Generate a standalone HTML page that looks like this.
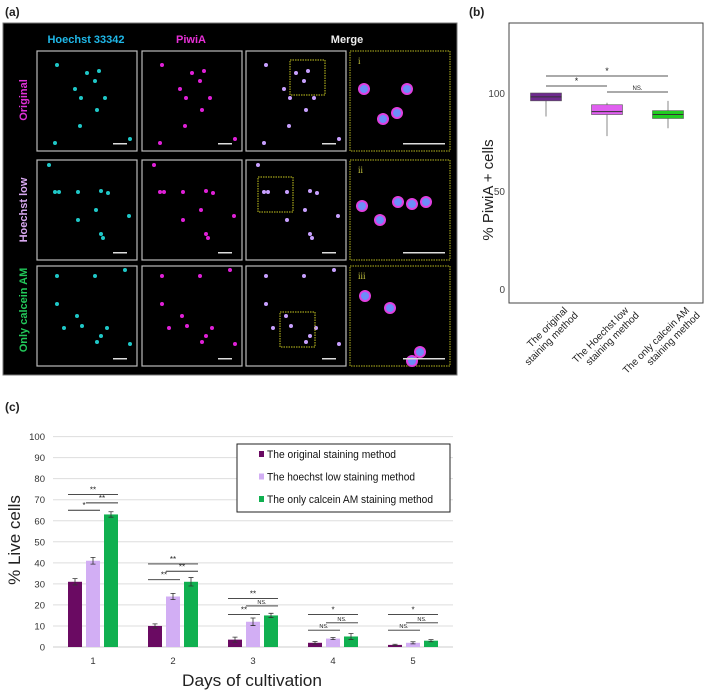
<!DOCTYPE html>
<html><head><meta charset="utf-8"><style>
body{margin:0;background:#fff;width:709px;height:693px;overflow:hidden;font-family:"Liberation Sans",sans-serif}
svg{display:block}
</style></head><body>
<svg width="709" height="693" viewBox="0 0 709 693" xmlns="http://www.w3.org/2000/svg">
<text x="5" y="16" font-size="12" font-weight="bold" fill="#222">(a)</text>
<text x="469" y="16" font-size="12" font-weight="bold" fill="#222">(b)</text>
<text x="5" y="411" font-size="12" font-weight="bold" fill="#222">(c)</text>

<g id="pa">
<rect x="3" y="23" width="454" height="352" fill="#000" stroke="#777" stroke-width="1"/>
<text x="86" y="43" font-size="11" font-weight="bold" fill="#1fb8e8" text-anchor="middle">Hoechst 33342</text>
<text x="191" y="43" font-size="11" font-weight="bold" fill="#e830d8" text-anchor="middle">PiwiA</text>
<text x="347" y="43" font-size="11" font-weight="bold" fill="#eee" text-anchor="middle">Merge</text>
<text transform="translate(27,100) rotate(-90)" font-size="11" font-weight="bold" fill="#e030d8" text-anchor="middle">Original</text>
<text transform="translate(27,210) rotate(-90)" font-size="11" font-weight="bold" fill="#d8a8f0" text-anchor="middle">Hoechst low</text>
<text transform="translate(27,310) rotate(-90)" font-size="11" font-weight="bold" fill="#22c85a" text-anchor="middle">Only calcein AM</text>
</g>

<g id="pb"></g>
<g id="pc"></g>
</svg>
<script>
// ---------- panel a decoration ----------
const NS='http://www.w3.org/2000/svg';
function mk(tag,attrs,parent){const e=document.createElementNS(NS,tag);for(const k in attrs)e.setAttribute(k,attrs[k]);parent.appendChild(e);return e;}
const pa=document.getElementById('pa');
const colX=[37,142,246,350], rowY=[51,160,266];
const dotSets=[
 [[20,14],[50,22],[62,20],[58,30],[38,38],[44,47],[68,47],[60,59],[43,75],[18,92],[93,88]],
 [[12,5],[18,32],[22,32],[41,32],[64,31],[71,33],[59,50],[41,60],[64,74],[66,78],[92,56]],
 [[20,10],[58,10],[88,4],[20,38],[40,50],[45,60],[27,62],[70,62],[60,76],[64,70],[93,78]]];
const tint=['#1fc8c8','#e020d8','#c8a0ff'];
for(let r=0;r<3;r++){
 for(let c=0;c<4;c++){
  const x=colX[c],y=rowY[r];
  const b=mk('rect',{x:x,y:y,width:100,height:100,fill:'none',stroke:c==3?'#b8b820':'#bbb','stroke-width':c==3?1:1.2,'stroke-dasharray':c==3?'1.5 1':'none'},pa);
  
  
  if(c<3){
   dotSets[r].forEach(p=>{mk('circle',{cx:x+p[0],cy:y+p[1],r:2,fill:tint[c]},pa);});
   mk('rect',{x:x+76,y:y+92,width:14,height:1.5,fill:'#ddd'},pa);
  } else {
   const big=[[[14,38],[57,38],[33,68],[47,62]],[[12,46],[30,60],[48,42],[62,44],[76,42]],[[15,30],[40,42],[70,86],[62,95]]][r];
   big.forEach(p=>{mk('circle',{cx:x+p[0],cy:y+p[1],r:6,fill:'#e040e0'},pa);mk('circle',{cx:x+p[0],cy:y+p[1],r:4,fill:'#50a0ff',opacity:0.8},pa);});
   mk('rect',{x:x+53,y:y+92,width:42,height:1.5,fill:'#ddd'},pa);
   mk('text',{x:x+8,y:y+13,'font-size':9,fill:'#c8c840','font-family':'Liberation Serif'},pa).textContent=['i','ii','iii'][r];
  }
 }
}
// small zoom boxes in merge column
[[290,60,35,35],[258,177,35,35],[280,312,35,35]].forEach(q=>mk('rect',{x:q[0],y:q[1],width:q[2],height:q[3],fill:'none',stroke:'#c8c820','stroke-dasharray':'1.5 1'},pa));

// ---------- panel b data ----------
const bCats=[["The original","staining method"],["The Hoechst low","staining method"],["The only calcein AM","staining method"]];
const bQ1=[96,89,87];
const bMed=[98,90.5,89];
const bQ3=[100,94,91];
const bLo=[88,78,82];
const bHi=[100,95,96];
const bColors=['#6e2a8e','#e060f0','#22cc22'];
const bTicks=[0,50,100];
const bSig=[[0,1,103.6,'*'],[0,2,108.7,'*'],[1,2,100.5,'NS.']];

const pb=document.getElementById('pb');
const bL=509,bR=703,bT=23,bB=303;
const by=v=>289-1.96*v;
const bx=i=>546+61*i;
const frame=mk('rect',{x:bL,y:bT,width:bR-bL,height:bB-bT,fill:'#fff',stroke:'#444','stroke-width':1},pb);


bTicks.forEach(t=>{const e=mk('text',{x:505,y:by(t)+4,'font-size':10,fill:'#444','text-anchor':'end'},pb);e.textContent=t;
 
 });
const byt=mk('text',{transform:'translate(493,190) rotate(-90)','font-size':15,fill:'#222','text-anchor':'middle'},pb);
byt.textContent='% PiwiA + cells';


bCats.forEach((c,i)=>{
 const cx=bx(i);
 mk('line',{x1:cx,x2:cx,y1:by(bLo[i]),y2:by(bHi[i]),stroke:'#888','stroke-width':1},pb);
 const r=mk('rect',{x:cx-15.5,y:by(bQ3[i]),width:31,height:by(bQ1[i])-by(bQ3[i]),fill:bColors[i],stroke:'#555','stroke-width':0.6},pb);
 
 
 mk('line',{x1:cx-15.5,x2:cx+15.5,y1:by(bMed[i]),y2:by(bMed[i]),stroke:'#333','stroke-width':1},pb);
 const g=mk('g',{transform:'translate('+(cx+22)+',311) rotate(-45)'},pb);
 const t1=mk('text',{x:0,y:0,'font-size':10,fill:'#222','text-anchor':'end'},g);t1.textContent=c[0];
 const t2=mk('text',{x:4,y:11,'font-size':10,fill:'#222','text-anchor':'end'},g);t2.textContent=c[1];
 
 
});
bSig.forEach(s=>{const y=by(s[2]);mk('line',{x1:bx(s[0]),x2:bx(s[1]),y1:y,y2:y,stroke:'#555','stroke-width':1},pb);
 const t=mk('text',{x:(bx(s[0])+bx(s[1]))/2,y:y-2,'font-size':s[3]=='*'?9:6,fill:'#222','text-anchor':'middle'},pb);t.textContent=s[3];});

// ---------- panel c data ----------
const cDays=['1','2','3','4','5'];
const cOriginal=[31,10,3.5,2,1];
const cHoechst=[41,24,12,4,2];
const cCalcein=[63,31,15,5,3];
const cErrOriginal=[1.5,1,1.2,0.6,0.3];
const cErrHoechst=[1.6,1.5,1.8,0.5,0.5];
const cErrCalcein=[1.3,2,1,1.4,0.5];
const cTicks=[0,10,20,30,40,50,60,70,80,90,100];
const cSeriesNames=['The original staining method','The hoechst low staining method','The only calcein AM staining method'];
const cSig=[
 [[0,2,72.5,'**'],[1,2,68.5,'**'],[0,1,65,'*']],
 [[0,2,39.5,'**'],[1,2,36,'**'],[0,1,32,'**']],
 [[0,2,23,'**'],[1,2,19.5,'NS.'],[0,1,15.5,'**']],
 [[0,2,15.5,'*'],[1,2,11.5,'NS.'],[0,1,8,'NS.']],
 [[0,2,15.5,'*'],[1,2,11.5,'NS.'],[0,1,8,'NS.']]];

const pc=document.getElementById('pc');
const cL=53,cR=453;
const cy=v=>647-2.104*v;
const band=(cR-cL)/cDays.length;
const cColors=['#6a0a62','#d2aef4','#10b050'];
const series=[cOriginal,cHoechst,cCalcein], errs=[cErrOriginal,cErrHoechst,cErrCalcein];
const bw=14,gap=4;
const cx=(d,s)=>cL+band*(d+0.5)+(s-1)*(bw+gap);
cTicks.forEach(t=>{
 const gl=mk('line',{x1:cL,x2:cR,y1:cy(t),y2:cy(t),stroke:t==0?'#ccc':'#ddd','stroke-width':1},pc);
 
 
 const e=mk('text',{x:45,y:cy(t)+3.5,'font-size':9.5,fill:'#333','text-anchor':'end'},pc);e.textContent=t;
 
 
});
cDays.forEach((d,i)=>{const e=mk('text',{x:cL+band*(i+0.5),y:664,'font-size':9.5,fill:'#333','text-anchor':'middle'},pc);e.textContent=d;
 
 });
series.forEach((ser,s)=>{ser.forEach((v,d)=>{
 const x=cx(d,s);
 const r=mk('rect',{x:x-bw/2,y:cy(v),width:bw,height:cy(0)-cy(v),fill:cColors[s]},pc);
 
 
 const e=errs[s][d];
 mk('path',{d:'M'+x+' '+cy(v+e)+'V'+cy(v-e)+'M'+(x-2.5)+' '+cy(v+e)+'h5M'+(x-2.5)+' '+cy(v-e)+'h5',stroke:'#333','stroke-width':0.8,fill:'none'},pc);
});});
cSig.forEach((grp,d)=>grp.forEach(s=>{
 const y=cy(s[2]);const x1=cx(d,s[0])-7,x2=cx(d,s[1])+7;
 mk('line',{x1:x1,x2:x2,y1:y,y2:y,stroke:'#333','stroke-width':0.9},pc);
 const t=mk('text',{x:(x1+x2)/2,y:y-2,'font-size':s[3]=='NS.'?5.5:8,fill:'#222','text-anchor':'middle'},pc);t.textContent=s[3];
}));
const lg=mk('g',{},pc);


mk('rect',{x:237,y:444,width:213,height:68,fill:'#fff',stroke:'#222','stroke-width':1},lg);
cSeriesNames.forEach((n,i)=>{const yy=455+i*22.5;
 mk('rect',{x:259,y:yy-4,width:5,height:6,fill:cColors[i]},lg);
 const t=mk('text',{x:267,y:yy+3,'font-size':11,fill:'#111',textLength:[129,148,166][i],lengthAdjust:'spacingAndGlyphs'},lg);t.textContent=n;
 
 });
const yt=mk('text',{transform:'translate(20,540) rotate(-90)','font-size':17,fill:'#222','text-anchor':'middle'},pc);
yt.textContent='% Live cells';


const xt=mk('text',{x:252,y:686,'font-size':17,fill:'#222','text-anchor':'middle',textLength:140,lengthAdjust:'spacingAndGlyphs'},pc);
xt.textContent='Days of cultivation';


</script>
</body></html>
